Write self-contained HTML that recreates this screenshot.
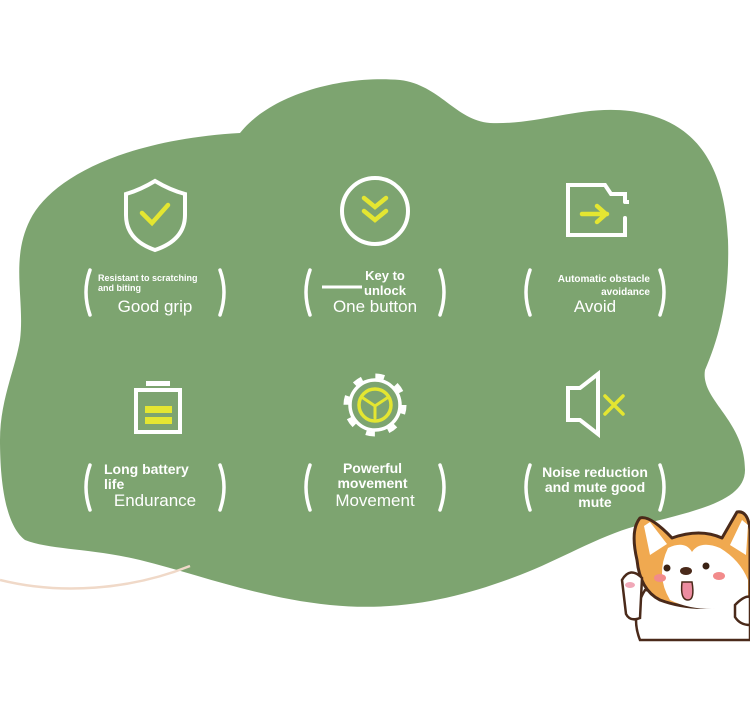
<!DOCTYPE html>
<html><head><meta charset="utf-8"><style>
body{margin:0;width:750px;height:708px;background:#fff;overflow:hidden;position:relative;font-family:"Liberation Sans",sans-serif}
svg{position:absolute;left:0;top:0}
.t{position:absolute;color:#fff;text-align:center;font-weight:bold}
.b{position:absolute;color:#fff;font-size:17px;text-align:center}
</style></head><body>
<svg width="750" height="708" viewBox="0 0 750 708">
<path d="M240,133 C270,95 340,75 400,80 C440,85 455,120 490,123 C540,125 580,105 630,111 C700,120 725,170 728,240 C730,300 718,340 705,370 C700,400 745,420 745,470 C745,500 700,510 640,525 C600,535 560,560 520,575 C460,598 400,612 330,605 C260,598 200,575 140,560 C90,548 50,550 25,540 C5,525 0,480 0,440 C0,400 15,370 20,340 C25,300 10,260 30,220 C50,180 120,140 240,133 Z" fill="#7da470"/>
<path d="M0,580 C60,595 130,590 190,566" stroke="#f0d9c8" stroke-width="2.5" fill="none"/>
<g fill="none" stroke="#fff" stroke-width="4" stroke-linecap="round">
<path d="M126,194 Q140,190 155,181 Q170,190 185,194 L185,215 Q185,240 155,250 Q126,240 126,215 Z"/>
<circle cx="375" cy="211" r="33"/>
<path d="M590,185 h15 l6,9 h14 v8 M625,218 v17 h-57 v-50 h22"/>
<rect x="136" y="390" width="44" height="42"/>
<path d="M568,388 h12 l18,-14 v60 l-18,-14 h-12 Z"/>
</g>
<circle cx="375" cy="405" r="29" fill="none" stroke="#fff" stroke-width="5" stroke-dasharray="9 13.8"/>
<circle cx="375" cy="405" r="25" fill="#7da470" stroke="#fff" stroke-width="3.5"/>
<rect x="146" y="381" width="24" height="5" fill="#fff"/>
<g fill="none" stroke="#e4e631" stroke-width="4.5" stroke-linecap="round">
<path d="M142,213 l10,10 l16,-18"/>
<path d="M364,198 l11,9 l11,-9 M364,211 l11,9 l11,-9"/>
<path d="M582,214 h25 M597,206 l9,8 -9,8"/>
<circle cx="375" cy="405" r="16" stroke-width="3.5"/>
<path d="M363,398 l12,8 l12,-8 M375,406 v12" stroke-width="3"/>
<path d="M605,396 l18,18 M623,396 l-18,18" stroke-width="3.5"/>
</g>
<rect x="145" y="406" width="27" height="7" fill="#e4e631"/><rect x="145" y="417" width="27" height="7" fill="#e4e631"/>
<rect x="626" y="200" width="3" height="4" fill="#fff"/>
<g fill="none" stroke="#fff" stroke-width="3.5" stroke-linecap="round">
<path d="M90,270 q-8,22 0,45 M220,270 q8,22 0,45"/>
<path d="M310,270 q-8,22 0,45 M440,270 q8,22 0,45"/>
<path d="M530,270 q-8,22 0,45 M660,270 q8,22 0,45"/>
<path d="M90,465 q-8,22 0,45 M220,465 q8,22 0,45"/>
<path d="M310,465 q-8,22 0,45 M440,465 q8,22 0,45"/>
<path d="M530,465 q-8,22 0,45 M660,465 q8,22 0,45"/>
</g>
<path d="M322,287 h40" stroke="#fff" stroke-width="3"/>
<!-- corgi -->
<path d="M645,590 Q630,615 640,640 H750 V595 Z" fill="#fff" stroke="#4a2a1a" stroke-width="2.5"/>
<path d="M637,560 Q630,530 640,518 Q650,515 672,538 Q700,528 722,538 L737,512 Q748,510 750,530 V600 Q700,615 660,600 Q640,590 637,560 Z" fill="#f0a950" stroke="#4a2a1a" stroke-width="3" stroke-linejoin="round"/>
<path d="M668,548 Q685,540 692,552 Q700,540 720,548 Q740,560 748,580 V605 Q700,615 670,600 Q655,575 668,548 Z" fill="#fff"/>
<path d="M644,526 L650,522 L667,544 L650,555 Z M742,520 L748,525 L746,555 L730,545 Z" fill="#fff"/>
<circle cx="667" cy="568" r="3.5" fill="#3a2214"/><circle cx="706" cy="566" r="3.5" fill="#3a2214"/>
<ellipse cx="686" cy="571" rx="6" ry="4" fill="#4a2a1a"/>
<path d="M682,582 q-2,18 6,18 q7,0 4,-18 Z" fill="#ec8ca0" stroke="#4a2a1a" stroke-width="1.5"/>
<ellipse cx="660" cy="578" rx="6" ry="4" fill="#f28b8b"/><ellipse cx="719" cy="576" rx="6" ry="4" fill="#f28b8b"/>
<path d="M622,580 q8,-14 20,-2 l-2,40 q-10,4 -14,-4 Z" fill="#fff" stroke="#4a2a1a" stroke-width="2.5"/>
<ellipse cx="630" cy="585" rx="5" ry="3" fill="#f0a8b8"/>
<path d="M735,605 q10,-10 15,-8 V625 q-10,0 -15,-8 Z" fill="#fff" stroke="#4a2a1a" stroke-width="2.5"/>
</svg>
<div class="t" style="left:98px;top:273px;width:120px;font-size:9px;text-align:left;line-height:10px">Resistant to scratching<br>and biting</div>
<div class="b" style="left:90px;top:297px;width:130px">Good grip</div>
<div class="t" style="left:350px;top:268px;width:70px;font-size:13px;line-height:15px">Key to<br>unlock</div>
<div class="b" style="left:310px;top:297px;width:130px">One button</div>
<div class="t" style="left:535px;top:273px;width:115px;font-size:10px;text-align:right;line-height:13px">Automatic obstacle<br>avoidance</div>
<div class="b" style="left:530px;top:297px;width:130px">Avoid</div>
<div class="t" style="left:104px;top:462px;width:110px;font-size:14px;text-align:left;line-height:15px">Long battery<br>life</div>
<div class="b" style="left:90px;top:491px;width:130px">Endurance</div>
<div class="t" style="left:310px;top:461px;width:125px;font-size:14px;line-height:15px">Powerful<br>movement</div>
<div class="b" style="left:310px;top:491px;width:130px">Movement</div>
<div class="t" style="left:530px;top:465px;width:130px;font-size:14px;line-height:15px">Noise reduction<br>and mute good<br>mute</div>
</body></html>
